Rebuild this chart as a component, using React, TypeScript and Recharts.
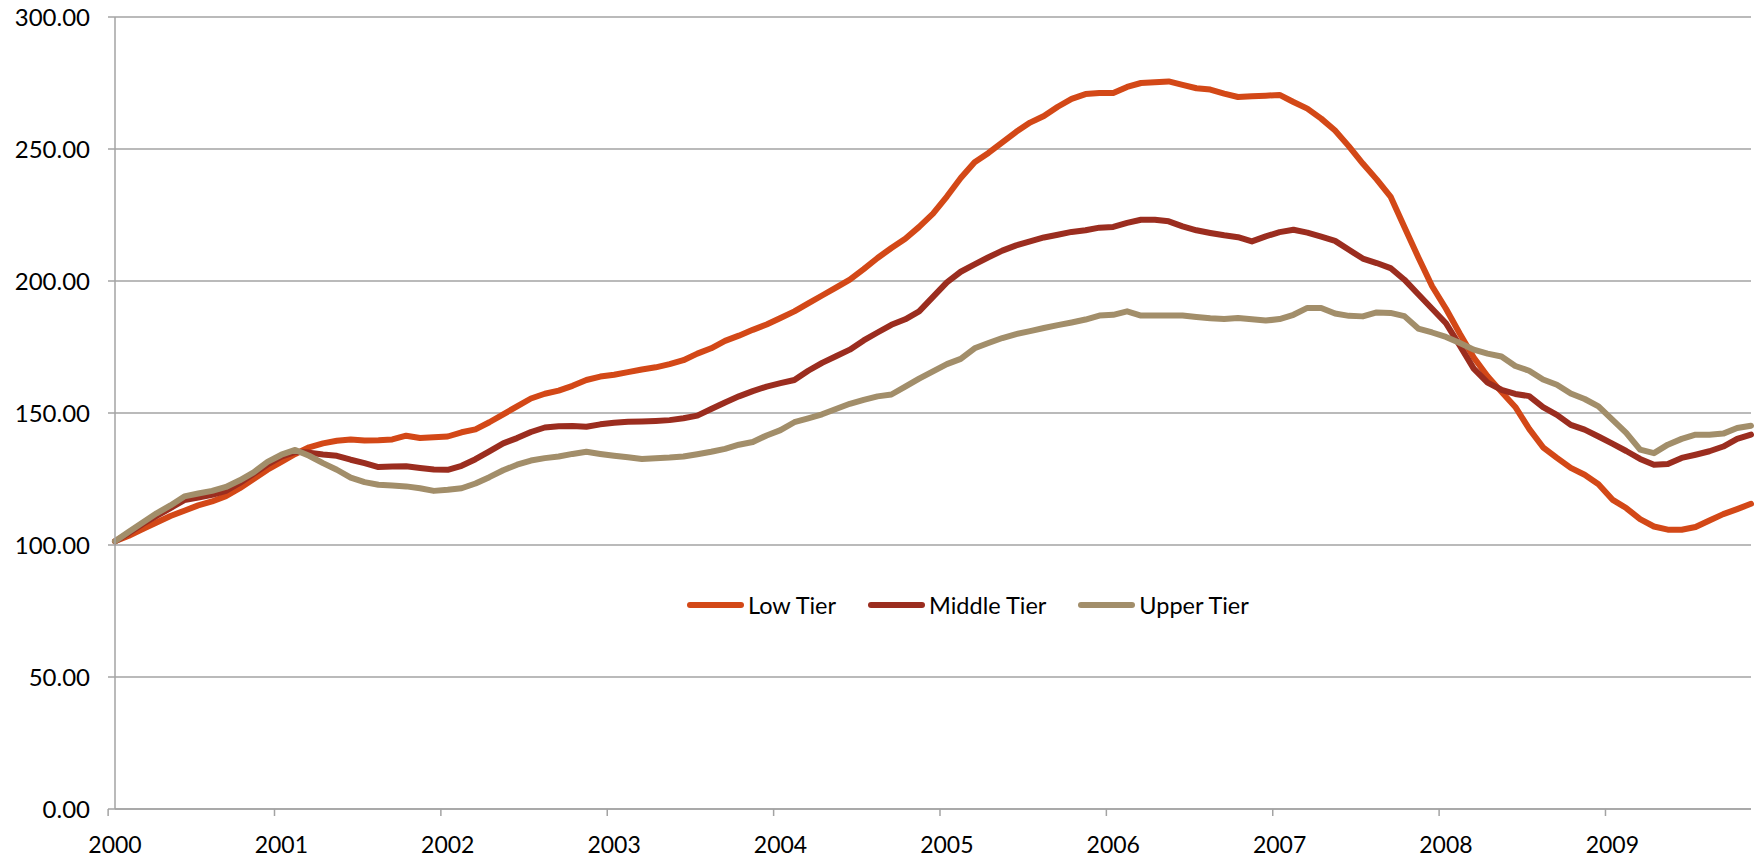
import { LineChart, Line, XAxis, YAxis, CartesianGrid } from 'recharts';

const YEARS = [2000, 2001, 2002, 2003, 2004, 2005, 2006, 2007, 2008, 2009];
const MONTH_NAMES = ['Jan', 'Feb', 'Mar', 'Apr', 'May', 'Jun', 'Jul', 'Aug', 'Sep', 'Oct', 'Nov', 'Dec'];
// Jan 2000 .. Nov 2009
const MONTHS = YEARS.flatMap(y => MONTH_NAMES.map(m => `${m} ${y}`)).slice(0, 119);

const LOW_TIER = [
  101.4, 103.5, 106, 108.5, 111, 113, 115, 116.5, 118.5, 121.5,
  125, 128.5, 131.5, 134.5, 137, 138.5, 139.5, 140, 139.6, 139.7,
  140, 141.4, 140.5, 140.8, 141.1, 142.7, 143.8, 146.5, 149.5, 152.5,
  155.5, 157.3, 158.5, 160.3, 162.5, 163.8, 164.5, 165.5, 166.5, 167.3,
  168.5, 170, 172.5, 174.5, 177.3, 179.3, 181.5, 183.5, 186, 188.5,
  191.5, 194.5, 197.5, 200.5, 204.5, 208.7, 212.5, 216, 220.5, 225.5,
  232, 239, 245, 248.5, 252.5, 256.5, 260, 262.5, 266, 269,
  270.8, 271.2, 271.2, 273.5, 275, 275.3, 275.6, 274.3, 273, 272.5,
  271, 269.7, 270, 270.2, 270.5, 267.8, 265.3, 261.5, 257, 251,
  244.5, 238.5, 232, 220.5, 209, 198, 189.5, 180, 171, 163.9,
  158, 152.3, 144, 137, 133, 129.2, 126.6, 123, 117.2, 114,
  109.8, 107, 105.8, 105.8, 106.8, 109.3, 111.7, 113.6, 115.6,
];

const MIDDLE_TIER = [
  101.4, 104.5, 108, 111, 114, 117, 118, 119, 120.5, 123.5,
  127, 130.5, 133.5, 135.3, 135, 134.3, 133.8, 132.3, 131, 129.5,
  129.7, 129.8, 129.2, 128.6, 128.5, 130, 132.5, 135.5, 138.5, 140.5,
  142.8, 144.5, 145, 145.1, 144.8, 145.7, 146.3, 146.7, 146.8, 147,
  147.3, 148, 149, 151.5, 154, 156.3, 158.3, 160, 161.3, 162.5,
  166, 169, 171.5, 174, 177.5, 180.5, 183.4, 185.5, 188.5, 194,
  199.5, 203.5, 206.3, 209, 211.5, 213.5, 215, 216.5, 217.5, 218.6,
  219.2, 220.2, 220.5, 222, 223.2, 223.2, 222.6, 220.7, 219.2, 218.2,
  217.3, 216.6, 215, 216.9, 218.5, 219.4, 218.3, 216.8, 215.2, 211.8,
  208.5, 206.8, 204.9, 200.5, 195, 189.5, 184, 175.5, 166.8, 161.5,
  158.8, 157.2, 156.4, 152.2, 149.3, 145.5, 143.7, 141.1, 138.4, 135.6,
  132.6, 130.4, 130.7, 133, 134.2, 135.5, 137.3, 140.2, 141.8,
];

const UPPER_TIER = [
  101.4, 105, 108.5, 112, 115, 118.4, 119.5, 120.5, 122, 124.5,
  127.5, 131.5, 134.2, 136, 133.8, 131, 128.5, 125.5, 123.8, 122.8,
  122.5, 122.2, 121.5, 120.5, 120.9, 121.5, 123.3, 125.7, 128.3, 130.4,
  132, 132.9, 133.5, 134.5, 135.3, 134.5, 133.8, 133.2, 132.6, 132.9,
  133.1, 133.5, 134.4, 135.3, 136.4, 138, 139, 141.5, 143.5, 146.5,
  148, 149.5, 151.5, 153.5, 155, 156.3, 157, 160, 163, 165.8,
  168.5, 170.5, 174.5, 176.5, 178.4, 179.9, 181, 182.2, 183.3, 184.3,
  185.4, 186.9, 187.2, 188.5, 186.9, 186.9, 186.9, 186.9, 186.4, 185.9,
  185.6, 186, 185.5, 185, 185.6, 187.2, 189.8, 189.8, 187.7, 186.8,
  186.6, 188.1, 187.9, 186.7, 182, 180.5, 178.8, 176.5, 174, 172.5,
  171.4, 167.8, 166, 162.7, 160.7, 157.4, 155.3, 152.5, 147.5, 142.5,
  136.1, 134.8, 138, 140.2, 141.8, 141.8, 142.2, 144.3, 145.2,
];

const Y_TICKS = [0, 50, 100, 150, 200, 250, 300];

const SERIES = [
  { key: 'low', name: 'Low Tier', color: '#D34817' },
  { key: 'middle', name: 'Middle Tier', color: '#9B2D1F' },
  { key: 'upper', name: 'Upper Tier', color: '#A28E6A' },
];

const data = MONTHS.map((month, i) => ({
  month,
  low: LOW_TIER[i],
  middle: MIDDLE_TIER[i],
  upper: UPPER_TIER[i],
}));

const W = 1758;
const H = 859;
const Y_AXIS_W = 115;
const RIGHT = 7;
const BAND = (W - Y_AXIS_W - RIGHT) / MONTHS.length;
const GRID = '#a3a3a3';
const FONT = 'Lato, "Liberation Sans", sans-serif';

// label sits on the category, tick mark sits on the boundary before it (Excel style)
function XTick(props: any) {
  const { x, y, payload } = props;
  const lx = x - BAND / 2;
  return (
    <g>
      <line x1={lx} x2={lx} y1={y} y2={y + 7} stroke={GRID} strokeWidth={1.5} />
      <text x={x} y={y + 44} textAnchor="middle" fill="#000" fontSize={23} fontFamily={FONT}>
        {String(payload.value).slice(-4)}
      </text>
    </g>
  );
}

function LegendBox() {
  return (
    <div style={{ position: 'absolute', left: 687, top: 591, display: 'flex', alignItems: 'center', gap: 32, fontFamily: FONT, fontSize: 23.5, color: '#000', lineHeight: '28px' }}>
      {SERIES.map(s => (
        <div key={s.key} style={{ display: 'flex', alignItems: 'center' }}>
          <svg width={57} height={10} style={{ display: 'block' }}>
            <line x1={3} x2={54} y1={5} y2={5} stroke={s.color} strokeWidth={6} strokeLinecap="round" />
          </svg>
          <span style={{ marginLeft: 4 }}>{s.name}</span>
        </div>
      ))}
    </div>
  );
}

export default function App() {
  return (
    <div style={{ position: 'absolute', left: 0, top: 0, width: W, height: H, background: '#fff', fontFamily: FONT }}>
      <LineChart width={W} height={H} data={data} margin={{ top: 17, right: RIGHT, left: 0, bottom: 0 }}>
        <CartesianGrid vertical={false} stroke={GRID} strokeWidth={1.5} />
        <XAxis
          dataKey="month"
          interval={11}
          height={50}
          tickSize={0}
          tickMargin={0}
          tickLine={false}
          axisLine={{ stroke: GRID, strokeWidth: 1.5 }}
          tick={(p: any) => <XTick {...p} />}
        />
        <YAxis
          width={Y_AXIS_W}
          domain={[0, 300]}
          ticks={Y_TICKS}
          tickFormatter={(v: number) => v.toFixed(2)}
          tickSize={7}
          tickMargin={18}
          axisLine={{ stroke: GRID, strokeWidth: 1.5 }}
          tickLine={{ stroke: GRID, strokeWidth: 1.5 }}
          tick={{ fill: '#000', fontSize: 24, fontFamily: FONT }}
        />
        {SERIES.map(s => (
          <Line
            key={s.key}
            type="linear"
            dataKey={s.key}
            name={s.name}
            stroke={s.color}
            strokeWidth={6}
            strokeLinejoin="round"
            strokeLinecap="round"
            dot={false}
            activeDot={false}
            isAnimationActive={false}
          />
        ))}
      </LineChart>
      <LegendBox />
    </div>
  );
}
